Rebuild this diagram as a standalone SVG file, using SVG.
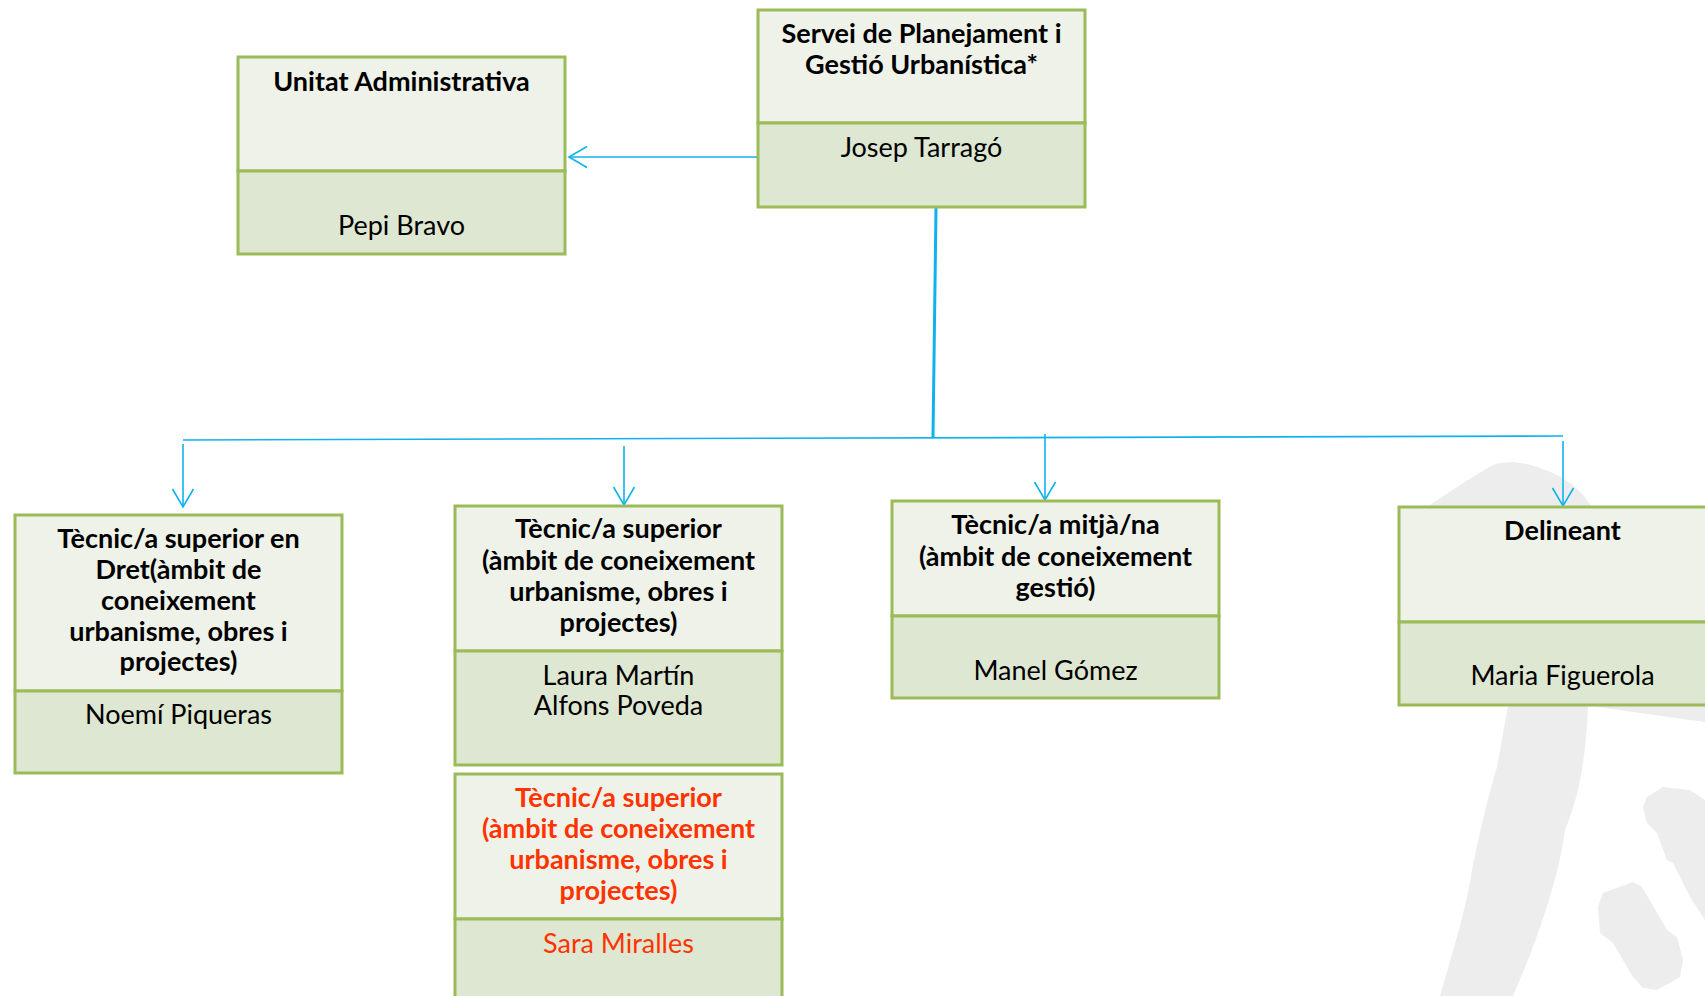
<svg xmlns="http://www.w3.org/2000/svg" width="1705" height="996" viewBox="0 0 1705 996">
<style>
.top{fill:#EFF2E8;stroke:#9BBB59;stroke-width:3}
.bot{fill:#DEE7D1;stroke:#9BBB59;stroke-width:3}
.t{font-family:Lato,"Liberation Sans",sans-serif;font-weight:bold;font-size:27px;fill:#000;text-anchor:middle}
.n{font-family:Lato,"Liberation Sans",sans-serif;font-size:27px;fill:#000;text-anchor:middle}
.red{fill:#FF3300}
.c{stroke:#0FB2EE;stroke-width:1.6;fill:none}
.wm{fill:#EDEDED}
</style>
<defs>
<marker id="arr" markerUnits="userSpaceOnUse" viewBox="-20 -12 22 24" refX="0" refY="0" markerWidth="22" markerHeight="24" orient="auto" overflow="visible">
<path d="M-18,-10.5 L0,0 L-18,10.5" fill="none" stroke="#0FB2EE" stroke-width="1.6"/>
</marker>
</defs>
<g id="watermark">
<path class="wm" d="M1427,507 C1445,495 1470,478 1493,465 C1505,460 1525,462 1540,468 C1560,475 1578,485 1592,507 L1705,520 L1705,722 C1660,716 1615,709 1588,706 C1586,760 1578,800 1565,830 C1560,870 1545,915 1530,955 L1513,996 L1440,996 C1455,945 1468,900 1472,870 C1480,830 1490,790 1497,767 L1508,706 L1430,700 Z"/>
<path class="wm" d="M1647,797 L1663,787 L1690,790 L1705,800 L1705,920 L1690,897 L1673,863 L1667,860 L1657,833 L1647,823 L1643,807 Z"/>
<path class="wm" d="M1603,893 L1633,882 L1642,887 L1667,930 L1677,937 L1683,960 L1680,977 L1657,990 L1643,988 L1633,977 L1613,943 L1600,933 L1598,907 Z"/>
</g>
<g id="connectors">
<path d="M936,208 L933,437" stroke="#0FB2EE" stroke-width="3" fill="none"/>
<path class="c" d="M183,440 L1563,436"/>
<path class="c" d="M763,157 L569,157" marker-end="url(#arr)"/>
<path class="c" d="M183,444 L183,507" marker-end="url(#arr)"/>
<path class="c" d="M624,446 L624,505" marker-end="url(#arr)"/>
<path class="c" d="M1045,434 L1045,500" marker-end="url(#arr)"/>
<path class="c" d="M1563,441 L1563,506" marker-end="url(#arr)"/>
</g>
<g id="servei">
<rect class="top" x="758" y="10" width="327" height="113"/>
<rect class="bot" x="758" y="123" width="327" height="84"/>
<text class="t" x="921.5" y="43">Servei de Planejament i</text>
<text class="t" x="921.5" y="74">Gestió Urbanística*</text>
<text class="n" x="921.5" y="157">Josep Tarragó</text>
</g>
<g id="unitat">
<rect class="top" x="238" y="57" width="327" height="114"/>
<rect class="bot" x="238" y="171" width="327" height="83"/>
<text class="t" x="401.5" y="91">Unitat Administrativa</text>
<text class="n" x="401.5" y="235">Pepi Bravo</text>
</g>
<g id="tecnic-dret">
<rect class="top" x="15" y="515" width="327" height="176"/>
<rect class="bot" x="15" y="691" width="327" height="82"/>
<text class="t" x="178.5" y="548">Tècnic/a superior en</text>
<text class="t" x="178.5" y="579">Dret(àmbit de</text>
<text class="t" x="178.5" y="610">coneixement</text>
<text class="t" x="178.5" y="641">urbanisme, obres i</text>
<text class="t" x="178.5" y="671">projectes)</text>
<text class="n" x="178.5" y="724">Noemí Piqueras</text>
</g>
<g id="tecnic-superior">
<rect class="top" x="455" y="506" width="327" height="145"/>
<rect class="bot" x="455" y="651" width="327" height="114"/>
<text class="t" x="618.5" y="538">Tècnic/a superior</text>
<text class="t" x="618.5" y="570">(àmbit de coneixement</text>
<text class="t" x="618.5" y="601">urbanisme, obres i</text>
<text class="t" x="618.5" y="632">projectes)</text>
<text class="n" x="618.5" y="685">Laura Martín</text>
<text class="n" x="618.5" y="715">Alfons Poveda</text>
</g>
<g id="tecnic-superior-2">
<rect class="top" x="455" y="774" width="327" height="145"/>
<rect class="bot" x="455" y="919" width="327" height="120"/>
<text class="t red" x="618.5" y="807">Tècnic/a superior</text>
<text class="t red" x="618.5" y="838">(àmbit de coneixement</text>
<text class="t red" x="618.5" y="869">urbanisme, obres i</text>
<text class="t red" x="618.5" y="900">projectes)</text>
<text class="n red" x="618.5" y="953">Sara Miralles</text>
</g>
<g id="tecnic-mitja">
<rect class="top" x="892" y="501" width="327" height="115"/>
<rect class="bot" x="892" y="616" width="327" height="82"/>
<text class="t" x="1055.5" y="534">Tècnic/a mitjà/na</text>
<text class="t" x="1055.5" y="566">(àmbit de coneixement</text>
<text class="t" x="1055.5" y="597">gestió)</text>
<text class="n" x="1055.5" y="680">Manel Gómez</text>
</g>
<g id="delineant">
<rect class="top" x="1399" y="507" width="327" height="115"/>
<rect class="bot" x="1399" y="622" width="327" height="83"/>
<text class="t" x="1562.5" y="540">Delineant</text>
<text class="n" x="1562.5" y="685">Maria Figuerola</text>
</g>
</svg>
